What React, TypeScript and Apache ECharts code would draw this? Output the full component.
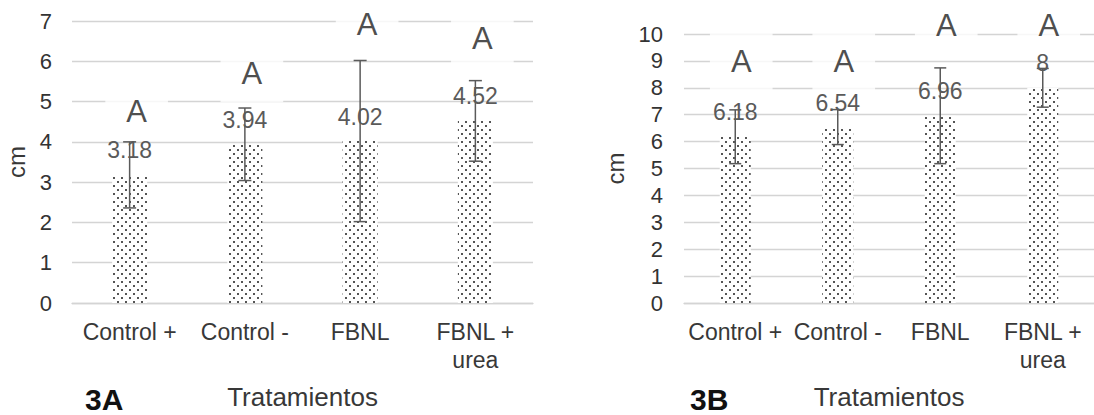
import React, { useEffect, useRef } from 'react';
import * as echarts from 'echarts';

const categories = ['Control +', 'Control -', 'FBNL', 'FBNL +\nurea'];

const valuesA = [3.18, 3.94, 4.02, 4.52];
const errorsA = [0.82, 0.9, 2.0, 1.0];
const lettersA = ['A', 'A', 'A', 'A'];
const letterYA = [4.76, 5.69, 6.91, 6.56];

const valuesB = [6.18, 6.54, 6.96, 8];
const errorsB = [1.0, 0.65, 1.78, 0.72];
const lettersB = ['A', 'A', 'A', 'A'];
const letterYB = [8.97, 8.97, 10.33, 10.33];

const yMaxA = 7;
const yMaxB = 10;
const panelTitles = ['3A', '3B'];
const xTitle = 'Tratamientos';
const yTitle = 'cm';

const FONT = '"Liberation Sans", Arial, Helvetica, sans-serif';

function makePattern(): HTMLCanvasElement {
  const c = document.createElement('canvas');
  c.width = 8;
  c.height = 8;
  const ctx = c.getContext('2d')!;
  ctx.fillStyle = '#ffffff';
  ctx.fillRect(0, 0, 8, 8);
  ctx.fillStyle = '#555555';
  ctx.fillRect(1, 1, 2, 2);
  ctx.fillRect(5, 5, 2, 2);
  return c;
}

function errorSeries(idx: number, values: number[], errors: number[], cap: number) {
  return {
    type: 'custom',
    xAxisIndex: idx,
    yAxisIndex: idx,
    z: 3,
    silent: true,
    clip: false,
    encode: { x: 0, y: [1, 2] },
    data: values.map((v, i) => [i, v - errors[i], v + errors[i]]),
    renderItem: (params: any, api: any) => {
      const x = api.value(0);
      const lo = api.coord([x, api.value(1)]);
      const hi = api.coord([x, api.value(2)]);
      const style = { stroke: '#5a5a5a', lineWidth: 1.5, fill: null };
      return {
        type: 'group',
        children: [
          { type: 'line', shape: { x1: lo[0], y1: lo[1], x2: hi[0], y2: hi[1] }, style },
          { type: 'line', shape: { x1: lo[0] - cap, y1: lo[1], x2: lo[0] + cap, y2: lo[1] }, style },
          { type: 'line', shape: { x1: hi[0] - cap, y1: hi[1], x2: hi[0] + cap, y2: hi[1] }, style },
        ],
      };
    },
  };
}

function barSeries(idx: number, values: number[], width: number, pattern: any) {
  return {
    type: 'bar',
    xAxisIndex: idx,
    yAxisIndex: idx,
    z: 2,
    barWidth: width,
    data: values,
    itemStyle: { color: pattern },
    label: {
      show: true,
      position: 'top',
      distance: 13,
      fontSize: 23,
      fontFamily: FONT,
      color: '#5a5a5a',
      formatter: (p: any) => String(p.value),
    },
  };
}

function letterSeries(idx: number, ys: number[], letters: string[], offX: number) {
  return {
    type: 'scatter',
    xAxisIndex: idx,
    yAxisIndex: idx,
    z: 1,
    silent: true,
    clip: false,
    symbolSize: 0.01,
    itemStyle: { color: 'rgba(0,0,0,0)' },
    data: ys,
    label: {
      show: true,
      position: 'inside',
      offset: [offX, 0],
      formatter: (p: any) => letters[p.dataIndex],
      fontSize: 31,
      fontFamily: FONT,
      color: '#1e1e1e',
      backgroundColor: '#ffffff',
      padding: [13, 21, 13, 21],
      lineHeight: 31,
    },
  };
}

function xAxis(idx: number, nameGap: number) {
  return {
    type: 'category',
    gridIndex: idx,
    data: categories,
    axisLine: { show: true, lineStyle: { color: '#d4d4d4', width: 1.3 } },
    axisTick: { show: false },
    axisLabel: {
      interval: 0,
      fontSize: 23,
      lineHeight: 28,
      margin: 15,
      color: '#383838',
      fontFamily: FONT,
    },
    name: xTitle,
    nameLocation: 'middle',
    nameGap,
    nameTextStyle: { fontSize: 26, color: '#383838', fontFamily: FONT },
  };
}

function yAxis(idx: number, max: number, nameGap: number, margin: number) {
  return {
    type: 'value',
    gridIndex: idx,
    min: 0,
    max,
    interval: 1,
    axisLine: { show: false },
    axisTick: { show: false },
    splitLine: { show: true, lineStyle: { color: '#d4d4d4', width: 1.3 } },
    axisLabel: { fontSize: 22, margin, color: '#333333', fontFamily: FONT },
    name: yTitle,
    nameLocation: 'middle',
    nameGap,
    nameRotate: 90,
    nameTextStyle: { fontSize: 24, color: '#383838', fontFamily: FONT },
  };
}

export default function App() {
  const ref = useRef<HTMLDivElement>(null);
  useEffect(() => {
    if (!ref.current) return;
    const chart = echarts.init(ref.current, undefined, { renderer: 'svg' });
    const pattern = {
      image: makePattern(),
      repeat: 'repeat',
      imageWidth: 8,
      imageHeight: 8,
    };
    chart.setOption({
      animation: false,
      backgroundColor: '#ffffff',
      grid: [
        { left: 72, top: 21, width: 461, height: 282.5 },
        { left: 684, top: 34, width: 416, height: 269 },
      ],
      xAxis: [xAxis(0, 81), xAxis(1, 81)],
      yAxis: [yAxis(0, yMaxA, 44, 20), yAxis(1, yMaxB, 57, 21)],
      graphic: [
        {
          type: 'text',
          left: 85,
          top: 384,
          style: { text: panelTitles[0], font: `bold 30px ${FONT}`, fill: '#111111' },
        },
        {
          type: 'text',
          left: 690,
          top: 384,
          style: { text: panelTitles[1], font: `bold 30px ${FONT}`, fill: '#111111' },
        },
      ],
      series: [
        letterSeries(0, letterYA, lettersA, 7),
        barSeries(0, valuesA, 35, pattern),
        errorSeries(0, valuesA, errorsA, 6.5),
        letterSeries(1, letterYB, lettersB, 6),
        barSeries(1, valuesB, 31, pattern),
        errorSeries(1, valuesB, errorsB, 6),
      ],
    });
    return () => chart.dispose();
  }, []);
  return (
    <div
      ref={ref}
      style={{ position: 'absolute', left: 0, top: 0, width: 1094, height: 415, background: '#fff' }}
    />
  );
}
